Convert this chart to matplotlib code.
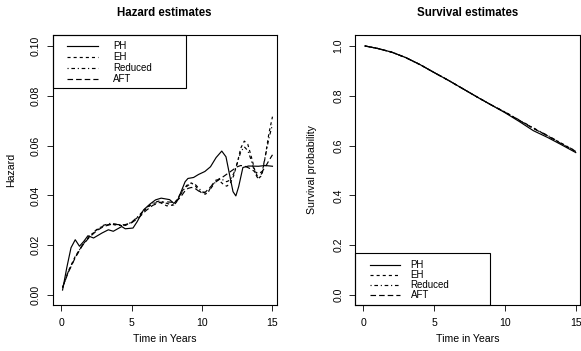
import matplotlib
matplotlib.use("Agg")
import matplotlib.pyplot as plt
from matplotlib.lines import Line2D
from matplotlib.patches import Rectangle

plt.rcParams["font.family"] = ["Liberation Sans", "DejaVu Sans"]
plt.rcParams["lines.scale_dashes"] = False

# hazard estimates (left panel)
t_ph = [0.1, 0.4, 0.7, 1.0, 1.3, 1.6, 1.9, 2.3, 2.9, 3.35, 3.7, 4.3, 4.55, 5.1,
        5.4, 5.85, 6.3, 6.7, 7.1, 7.7, 8.0, 8.3, 8.55, 8.8, 9.0, 9.4, 9.75, 10.2,
        10.6, 11.0, 11.4, 11.7, 12.0, 12.2, 12.4, 12.6, 12.9, 13.3, 14.0, 14.5, 15.0]
haz_ph = [0.002, 0.011, 0.019, 0.0222, 0.0196, 0.0215, 0.0238, 0.0229, 0.0249,
          0.0262, 0.0256, 0.0275, 0.0266, 0.0269, 0.0295, 0.0342, 0.0365, 0.0382,
          0.0389, 0.0383, 0.0368, 0.0385, 0.042, 0.0455, 0.0468, 0.0472, 0.0484,
          0.0496, 0.0515, 0.0552, 0.0578, 0.0555, 0.047, 0.0415, 0.0398, 0.0435,
          0.0512, 0.0518, 0.0517, 0.052, 0.0517]

t_other = [0.1, 0.5, 1.0, 1.5, 2.0, 2.5, 3.0, 3.5, 4.0, 4.5, 5.0, 5.5, 6.0, 6.5,
           7.0, 7.5, 8.0, 8.25, 8.5, 8.75, 9.0, 9.25, 9.5, 9.75, 10.0, 10.25, 10.5,
           10.75, 11.0, 11.25, 11.5, 11.75, 12.0, 12.25, 12.5, 12.75, 13.0, 13.25,
           13.5, 13.75, 14.0, 14.25, 14.5, 14.75, 15.0]
haz_eh = [0.003, 0.0095, 0.0155, 0.0200, 0.0235, 0.0260, 0.0278, 0.0285, 0.0280,
          0.0278, 0.0292, 0.0315, 0.0345, 0.0368, 0.0372, 0.0358, 0.0362, 0.0385,
          0.0410, 0.0430, 0.0445, 0.0450, 0.0440, 0.0422, 0.0408, 0.0405, 0.0420,
          0.0445, 0.0462, 0.0458, 0.0445, 0.0437, 0.0448, 0.0480, 0.0530, 0.0590,
          0.0618, 0.0605, 0.0555, 0.0500, 0.0468, 0.0480, 0.0560, 0.0650, 0.0716]
haz_red = [0.003, 0.0093, 0.0152, 0.0200, 0.0236, 0.0262, 0.0280, 0.0288, 0.0284,
           0.0280, 0.0292, 0.0318, 0.0348, 0.0370, 0.0378, 0.0368, 0.0360, 0.0378,
           0.0405, 0.0428, 0.0440, 0.0448, 0.0445, 0.0430, 0.0415, 0.0410, 0.0418,
           0.0438, 0.0458, 0.0468, 0.0462, 0.0455, 0.0462, 0.0488, 0.0530, 0.0575,
           0.0595, 0.0580, 0.0540, 0.0490, 0.0465, 0.0490, 0.0560, 0.0630, 0.0685]
haz_aft = [0.003, 0.009, 0.015, 0.0198, 0.0232, 0.0257, 0.0275, 0.0283, 0.0283,
           0.0282, 0.0290, 0.0310, 0.0338, 0.0360, 0.0372, 0.0374, 0.0372, 0.0380,
           0.0395, 0.0415, 0.0428, 0.0432, 0.0428, 0.0418, 0.0410, 0.0414, 0.0428,
           0.0443, 0.0455, 0.0465, 0.0475, 0.0485, 0.0495, 0.0505, 0.0515, 0.0520,
           0.0518, 0.0512, 0.0505, 0.0495, 0.0488, 0.0495, 0.0515, 0.0540, 0.0563]

# survival estimates (right panel)
t_surv = [0.1, 1, 2, 3, 4, 5, 6, 7, 8, 9, 10, 11, 12, 13, 14, 15]
surv_ph = [1.0, 0.99, 0.975, 0.953, 0.925, 0.893, 0.862, 0.829, 0.796, 0.764,
           0.732, 0.697, 0.660, 0.633, 0.603, 0.572]
surv_eh = [1.0, 0.99, 0.975, 0.953, 0.925, 0.893, 0.862, 0.829, 0.796, 0.764,
           0.734, 0.702, 0.670, 0.640, 0.608, 0.577]
surv_red = [1.0, 0.99, 0.975, 0.953, 0.925, 0.893, 0.862, 0.829, 0.796, 0.764,
            0.735, 0.703, 0.671, 0.641, 0.609, 0.578]
surv_aft = [1.0, 0.99, 0.975, 0.953, 0.925, 0.893, 0.862, 0.829, 0.796, 0.764,
            0.734, 0.701, 0.669, 0.639, 0.607, 0.576]

labels = ["PH", "EH", "Reduced", "AFT"]
styles = [dict(linestyle="-"),
          dict(linestyle=(0, (2.2, 2.2))),
          dict(linestyle=(0, (0.8, 2.0, 2.6, 2.0))),
          dict(linestyle=(0, (4.0, 2.2)))]
lw = 0.85


def r_axes(ax, title, ylabel, yticks, ylim):
    ax.set_xlim(-0.6, 15.3)
    ax.set_ylim(*ylim)
    ax.set_xticks([0, 5, 10, 15])
    ax.set_yticks(yticks)
    ax.tick_params(direction="out", length=4, width=0.6, labelsize=7.6)
    ax.tick_params(axis="x", pad=5.5)
    ax.tick_params(axis="y", pad=4.5)
    for s in ax.spines.values():
        s.set_linewidth(0.8)
    ax.set_title(title, fontsize=8.3, fontweight="bold", y=1.083, va="center", pad=0)
    ax.set_xlabel("Time in Years", fontsize=7.6)
    ax.set_ylabel(ylabel, fontsize=7.6)
    ax.xaxis.set_label_coords(0.5, -0.108)


def r_legend(ax, x0, x1, y_top, y_bot, line_x, text_x, rows):
    ax.add_patch(Rectangle((x0, y_bot), x1 - x0, y_top - y_bot, transform=ax.transAxes,
                           fill=False, edgecolor="black", linewidth=0.8, clip_on=False))
    for lab, st, yy in zip(labels, styles, rows):
        ax.add_line(Line2D(line_x, [yy, yy], transform=ax.transAxes, color="black",
                           linewidth=lw, **st))
        ax.text(text_x, yy, lab, transform=ax.transAxes, fontsize=7, va="center")


fig = plt.figure(figsize=(5.81, 3.51), dpi=100)
ax1 = fig.add_axes([52.7 / 581, 46 / 351, 224 / 581, 270 / 351])
ax2 = fig.add_axes([355 / 581, 46 / 351, 225 / 581, 270 / 351])

ax1.plot(t_ph, haz_ph, color="black", linewidth=lw, **styles[0])
ax1.plot(t_other, haz_eh, color="black", linewidth=lw, **styles[1])
ax1.plot(t_other, haz_red, color="black", linewidth=lw, **styles[2])
ax1.plot(t_other, haz_aft, color="black", linewidth=lw, **styles[3])
r_axes(ax1, "Hazard estimates", "Hazard", [0.0, 0.02, 0.04, 0.06, 0.08, 0.10], (-0.004, 0.1044))
ax1.set_yticklabels(["0.00", "0.02", "0.04", "0.06", "0.08", "0.10"], rotation=90, va="center")
ax1.yaxis.set_label_coords(-0.165, 0.5)
r_legend(ax1, 0.0, 0.597, 1.0, 0.804, [0.066, 0.202], 0.269, [0.960, 0.920, 0.879, 0.838])

for ys, st in zip([surv_ph, surv_eh, surv_red, surv_aft], styles):
    ax2.plot(t_surv, ys, color="black", linewidth=lw, **st)
r_axes(ax2, "Survival estimates", "Survival probability", [0.0, 0.2, 0.4, 0.6, 0.8, 1.0], (-0.04, 1.044))
ax2.set_yticklabels(["0.0", "0.2", "0.4", "0.6", "0.8", "1.0"], rotation=90, va="center")
ax2.yaxis.set_label_coords(-0.171, 0.5)
r_legend(ax2, 0.0, 0.6, 0.193, 0.0, [0.067, 0.2], 0.247, [0.148, 0.111, 0.074, 0.037])

fig.savefig("out.png", dpi=100)
